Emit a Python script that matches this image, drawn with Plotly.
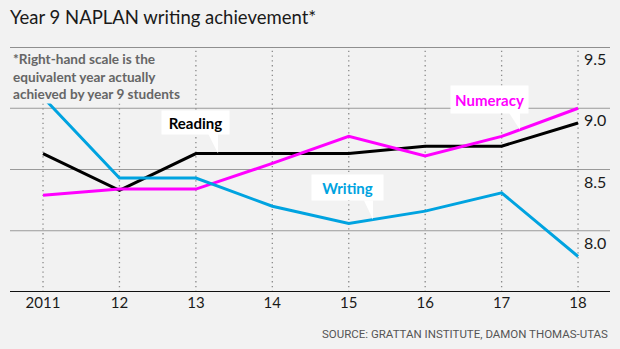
import plotly.graph_objects as go

# Year 9 NAPLAN results expressed as equivalent year level achieved
years = [2011, 2012, 2013, 2014, 2015, 2016, 2017, 2018]
tick_labels = ["2011", "12", "13", "14", "15", "16", "17", "18"]
reading = [8.63, 8.33, 8.63, 8.63, 8.63, 8.69, 8.69, 8.88]
numeracy = [8.29, 8.34, 8.34, 8.55, 8.77, 8.61, 8.77, 9.00]
writing = [9.09, 8.43, 8.43, 8.20, 8.06, 8.16, 8.31, 7.79]
y_ticks = [8.0, 8.5, 9.0, 9.5]

BG = "#f2f2f2"
BLUE = "#00a3e0"
MAGENTA = "#ff00ff"
FONT = "Lato"

X_RANGE = [2010.568, 2018.418]
Y_RANGE = [7.5, 9.5]


def interp(xs, ys, x):
    for i in range(len(xs) - 1):
        if xs[i] <= x <= xs[i + 1]:
            t = (x - xs[i]) / (xs[i + 1] - xs[i])
            return ys[i] + t * (ys[i + 1] - ys[i])
    return ys[-1]


fig = go.Figure()

series = [("Reading", reading, "#000000"),
          ("Numeracy", numeracy, MAGENTA),
          ("Writing", writing, BLUE)]
for name, vals, col in series:
    fig.add_trace(go.Scatter(x=years, y=vals, mode="lines", name=name,
                             line=dict(color=col, width=3),
                             showlegend=False, hoverinfo="skip"))

shapes = []
# horizontal rules across the full plot width
for v in y_ticks:
    shapes.append(dict(type="line", xref="paper", yref="y", x0=0, x1=1,
                       y0=v, y1=v, layer="below",
                       line=dict(color="#6e6e6e" if v == Y_RANGE[1] else "#9a9a9a",
                                 width=1.5 if v == Y_RANGE[1] else 1.2)))
# dotted year guides
for yr in years:
    shapes.append(dict(type="line", xref="x", yref="y", x0=yr, x1=yr,
                       y0=Y_RANGE[0], y1=Y_RANGE[1], layer="below",
                       line=dict(color="#8a8a8a", width=1.3, dash="1.3px,3.5px")))
# baseline
shapes.append(dict(type="line", xref="paper", yref="y", x0=0, x1=1,
                   y0=Y_RANGE[0], y1=Y_RANGE[0],
                   line=dict(color="#111111", width=2)))

annotations = []

# callout labels with small white pointers down to each line
callouts = [
    # text, values, colour, box centre (x, y), box size, pointer x, pointer path
    ("Reading", reading, "#000000", (2013.0, 8.884), (65, 21), 2013.29,
     "M 0 0 L -10 20 L 0 20 Z"),
    ("Numeracy", numeracy, MAGENTA, (2016.84, 9.071), (75, 25), 2017.24,
     "M 0 0 L -11 17 L 0 17 Z"),
    ("Writing", writing, BLUE, (2014.98, 8.353), (69, 23), 2015.317,
     "M 0 0 L -9 19 L 0 19 Z"),
]
for text, vals, col, (bx, by), (bw, bh), px, path in callouts:
    py = interp(years, vals, px)
    shapes.append(dict(type="path", xref="x", yref="y",
                       xsizemode="pixel", ysizemode="pixel",
                       xanchor=px, yanchor=py, path=path,
                       fillcolor="#ffffff", line=dict(width=0), layer="above"))
    annotations.append(dict(x=bx, y=by, xref="x", yref="y", text=f"<b>{text}</b>",
                            showarrow=False, bgcolor="#ffffff",
                            width=bw, height=bh,
                            font=dict(family=FONT, size=15, color=col)))

# right-hand scale labels, sitting just under each rule
for v in y_ticks:
    annotations.append(dict(x=1, y=v, xref="paper", yref="y", text=f"{v:.1f}",
                            showarrow=False, xanchor="right", yanchor="top",
                            xshift=-2, yshift=0,
                            font=dict(family=FONT, size=16, color="#1a1a1a")))

# footnote in top-left corner
annotations.append(dict(x=0, y=1, xref="paper", yref="paper",
                        xanchor="left", yanchor="top", align="left",
                        xshift=1, yshift=-2,
                        text="<b>*Right-hand scale is the<br>equivalent year actually<br>"
                             "achieved by year 9 students</b>",
                        showarrow=False, bgcolor=BG, borderpad=1,
                        font=dict(family=FONT, size=13.6, color="#666666")))

# source line
annotations.append(dict(x=1, y=0, xref="paper", yref="paper",
                        xanchor="right", yanchor="middle",
                        yshift=-42, xshift=0,
                        text="SOURCE: GRATTAN INSTITUTE, DAMON THOMAS-UTAS",
                        showarrow=False,
                        font=dict(family="Roboto", size=11.5, color="#555555")))

fig.update_layout(
    width=620, height=349,
    margin=dict(l=10, r=10, t=47, b=57),
    paper_bgcolor=BG, plot_bgcolor=BG,
    title=dict(text="Year 9 NAPLAN writing achievement*",
               x=10 / 620, xanchor="left", y=1 - 18 / 349, yanchor="middle",
               font=dict(family=FONT, size=18.5, color="#1a1a1a")),
    xaxis=dict(range=X_RANGE, tickvals=years, ticktext=tick_labels,
               showgrid=False, zeroline=False, showline=False,
               ticks="", tickfont=dict(family=FONT, size=15, color="#1a1a1a"),
               fixedrange=True),
    yaxis=dict(range=Y_RANGE, showgrid=False, zeroline=False,
               showticklabels=False, fixedrange=True),
    shapes=shapes,
    annotations=annotations,
)

fig.write_html("out.html")
